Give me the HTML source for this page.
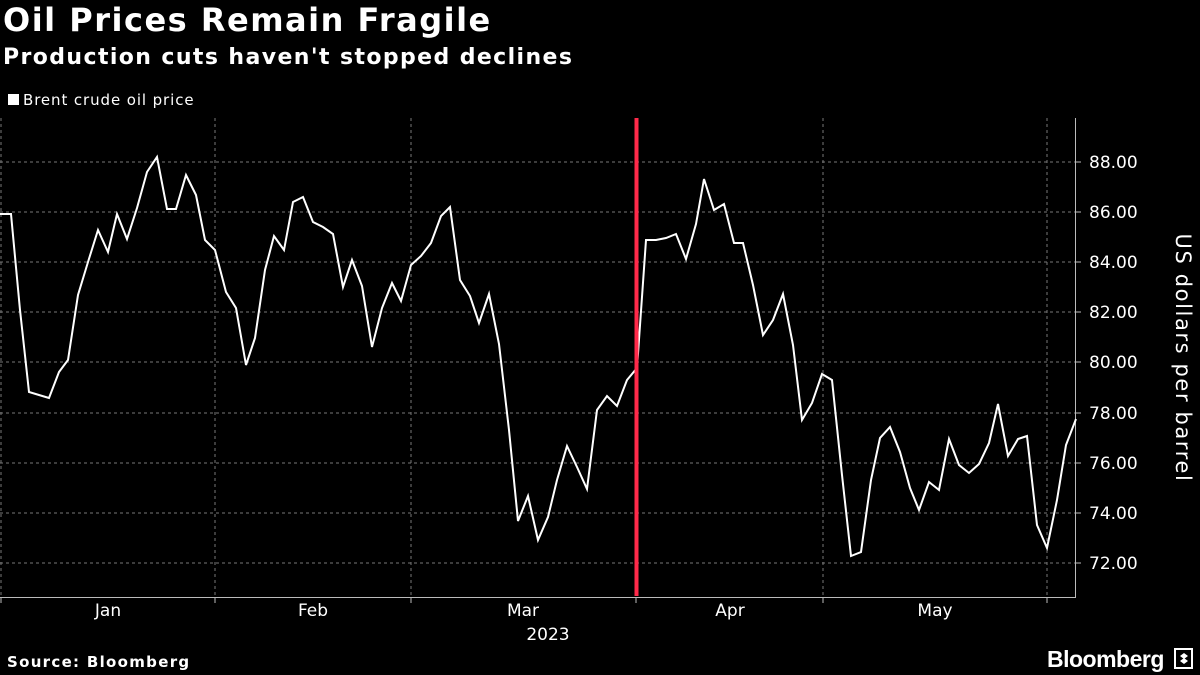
<!DOCTYPE html>
<html><head><meta charset="utf-8"><style>
html,body{margin:0;padding:0;background:#000;}
body{width:1200px;height:675px;overflow:hidden;position:relative;font-family:"DejaVu Sans",sans-serif;color:#fff;}
.t{position:absolute;left:3px;top:1px;font-size:32px;font-weight:bold;letter-spacing:1.5px;}
.s{position:absolute;left:3px;top:45px;font-size:22px;font-weight:bold;letter-spacing:1.4px;}
.l{position:absolute;left:8px;top:91px;font-size:15px;letter-spacing:0.9px;}
.l span{display:inline-block;width:11px;height:11px;background:#fff;margin-right:4px;}
.src{position:absolute;left:7px;top:653px;font-size:15px;font-weight:bold;letter-spacing:1.3px;}
.bb{position:absolute;left:1047px;top:646px;font-family:"Liberation Sans",sans-serif;font-size:23px;font-weight:bold;letter-spacing:-0.5px;}
</style></head><body>
<div class="t">Oil Prices Remain Fragile</div>
<div class="s">Production cuts haven't stopped declines</div>
<div class="l"><span></span>Brent crude oil price</div>
<svg width="1200" height="675" style="position:absolute;left:0;top:0">
<g stroke="#777" stroke-width="1" stroke-dasharray="3,3">
<line x1="0" x2="1075" y1="162" y2="162"/><line x1="0" x2="1075" y1="212" y2="212"/>
<line x1="0" x2="1075" y1="262" y2="262"/><line x1="0" x2="1075" y1="312" y2="312"/>
<line x1="0" x2="1075" y1="362" y2="362"/><line x1="0" x2="1075" y1="413" y2="413"/>
<line x1="0" x2="1075" y1="463" y2="463"/><line x1="0" x2="1075" y1="513" y2="513"/>
<line x1="0" x2="1075" y1="563" y2="563"/>
<line x1="1" x2="1" y1="118" y2="597"/><line x1="215" x2="215" y1="118" y2="597"/>
<line x1="411" x2="411" y1="118" y2="597"/><line x1="823" x2="823" y1="118" y2="597"/>
<line x1="1047" x2="1047" y1="118" y2="597"/>
</g>
<g stroke="#bbb" stroke-width="1">
<line x1="0" x2="1076" y1="597.5" y2="597.5"/>
<line x1="1075.5" x2="1075.5" y1="118" y2="597"/>
<line x1="1" x2="1" y1="597" y2="603"/><line x1="215" x2="215" y1="597" y2="603"/>
<line x1="411" x2="411" y1="597" y2="603"/><line x1="636" x2="636" y1="597" y2="603"/>
<line x1="823" x2="823" y1="597" y2="603"/><line x1="1047" x2="1047" y1="597" y2="603"/>
<line x1="1075" x2="1081" y1="162" y2="162"/><line x1="1075" x2="1081" y1="212" y2="212"/>
<line x1="1075" x2="1081" y1="262" y2="262"/><line x1="1075" x2="1081" y1="312" y2="312"/>
<line x1="1075" x2="1081" y1="362" y2="362"/><line x1="1075" x2="1081" y1="413" y2="413"/>
<line x1="1075" x2="1081" y1="463" y2="463"/><line x1="1075" x2="1081" y1="513" y2="513"/>
<line x1="1075" x2="1081" y1="563" y2="563"/>
</g>
<polyline fill="none" stroke="#fff" stroke-width="2" stroke-linejoin="miter" points="0,214 11,214 20,310 29,392 39,395 49,398 59,372 68,360 78,295 88,262 98,230 108,252 117,214 127,239 137,208 147,172 157,157 167,209 176,209 186,175 196,195 205,240 215,250 226,292 236,308 246,365 255,338 265,270 274,236 284,250 293,202 303,197 313,222 323,227 333,234 343,287 352,260 362,286 372,347 382,308 392,283 401,301 411,265 421,256 431,243 441,216 450,207 460,280 470,296 479,323 489,294 499,344 509,430 518,521 528,496 538,540 548,517 557,480 567,446 577,467 587,489 597,410 607,396 617,406 627,380 637,368 646,240 656,240 666,238 676,234 686,259 696,224 704,179 714,210 724,204 734,243 743,243 753,285 763,335 773,320 783,294 793,345 802,420 812,403 822,374 832,380 842,475 851,556 861,552 871,480 880,438 890,427 900,452 910,488 919,510 929,482 939,490 949,439 959,465 969,473 979,464 989,443 998,404 1008,456 1018,439 1027,436 1037,525 1047,548 1057,500 1066,445 1076,419"/>
<line x1="636.5" x2="636.5" y1="118" y2="596" stroke="#ff2a4a" stroke-width="4"/>
<g fill="#fff" font-family="DejaVu Sans, sans-serif" font-size="17">
<text x="1089" y="168">88.00</text><text x="1089" y="218">86.00</text>
<text x="1089" y="268">84.00</text><text x="1089" y="318">82.00</text>
<text x="1089" y="368">80.00</text><text x="1089" y="419">78.00</text>
<text x="1089" y="469">76.00</text><text x="1089" y="519">74.00</text>
<text x="1089" y="569">72.00</text>
<g text-anchor="middle">
<text x="108" y="616">Jan</text><text x="313" y="616">Feb</text>
<text x="523" y="616">Mar</text><text x="730" y="616">Apr</text>
<text x="935" y="616">May</text><text x="548" y="640">2023</text>
</g>
<text transform="translate(1176,358) rotate(90)" text-anchor="middle" font-size="21" letter-spacing="1.6">US dollars per barrel</text>
</g>
</svg>
<div class="src">Source: Bloomberg</div>
<div class="bb">Bloomberg</div>
<svg width="20" height="22" style="position:absolute;left:1174px;top:648px"><rect x="1" y="1" width="17" height="19" fill="none" stroke="#fff" stroke-width="2"/><path d="M6 8 L10 5 L14 8 L10 11 Z M6 13 L10 10 L14 13 L10 16 Z" fill="#fff"/></svg>
</body></html>
